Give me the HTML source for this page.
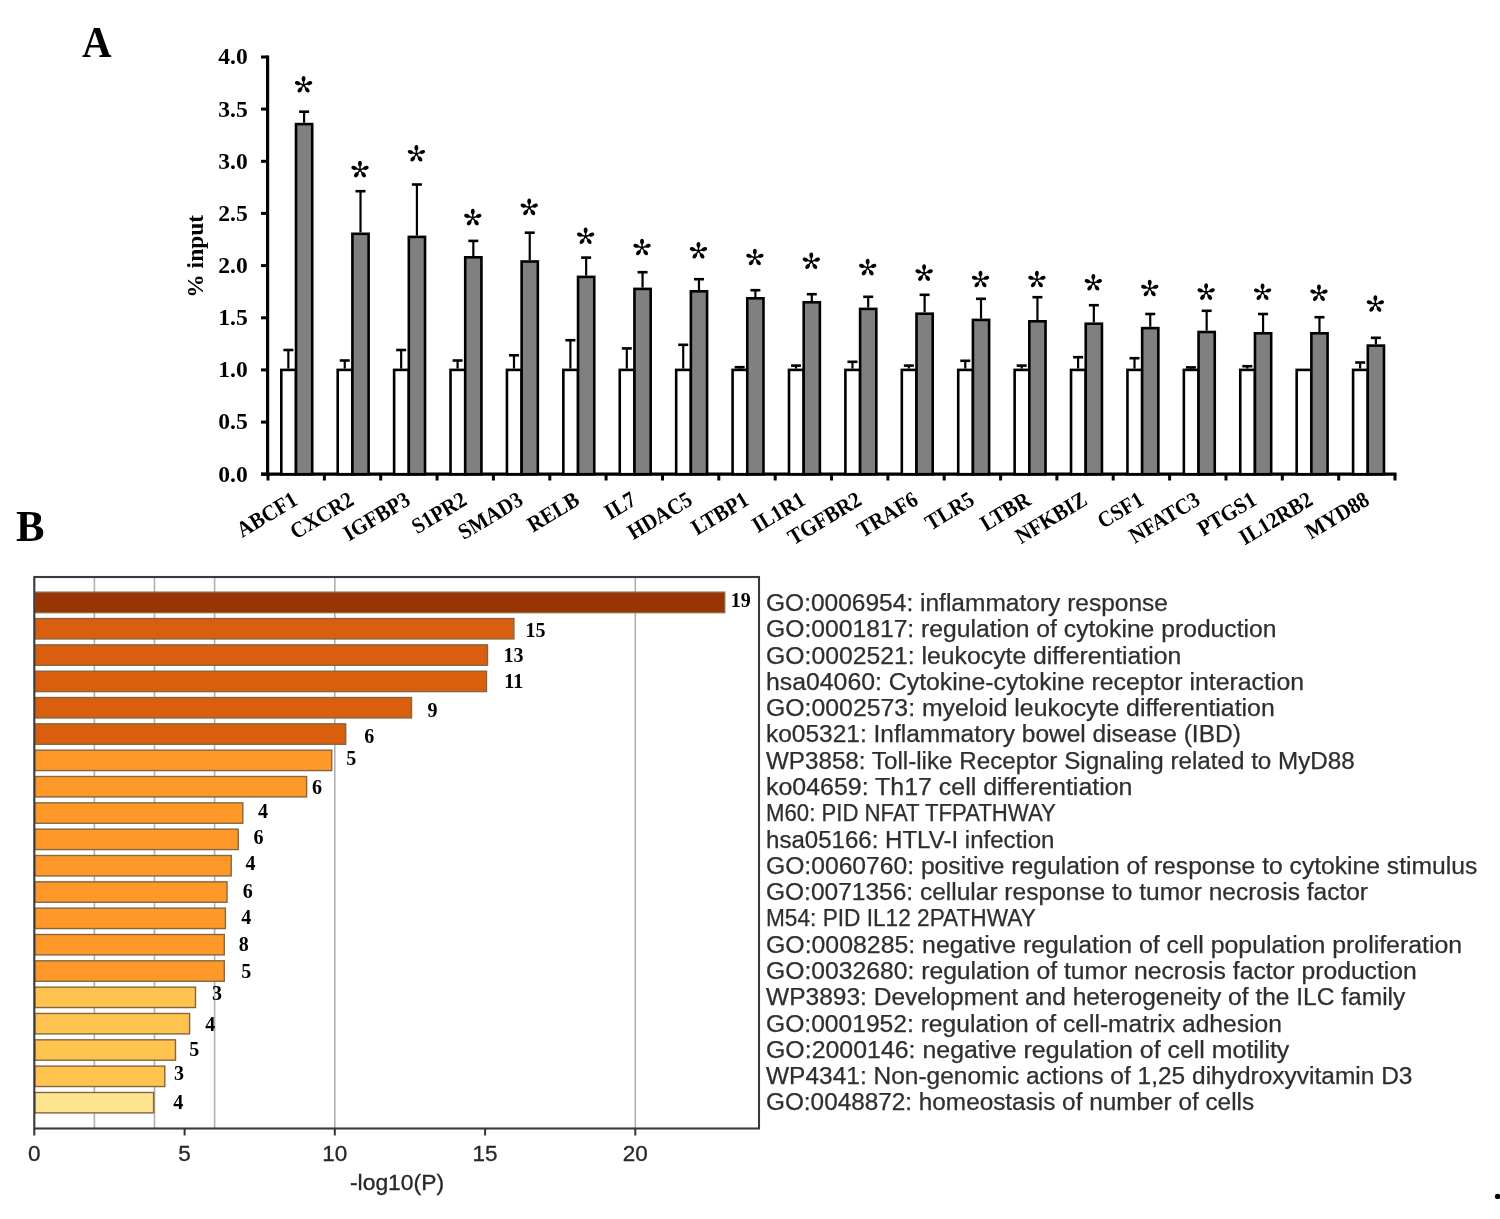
<!DOCTYPE html>
<html><head><meta charset="utf-8"><title>Figure</title>
<style>html,body{margin:0;padding:0;background:#fff}body{width:1500px;height:1219px;position:relative;overflow:hidden;font-family:"Liberation Sans",sans-serif}</style>
</head><body>
<svg width="1500" height="1219" viewBox="0 0 1500 1219" style="position:absolute;left:0;top:0;filter:blur(0.45px)">
<defs><g id="ast"><circle r="1.3"/><path id="lobe" d="M-0.7 0 L-0.75 -3.3 C-2.45 -4.5 -2.45 -9.0 0 -9.0 C2.45 -9.0 2.45 -4.5 0.75 -3.3 L0.7 0 Z"/><use href="#lobe" transform="rotate(72)"/><use href="#lobe" transform="rotate(144)"/><use href="#lobe" transform="rotate(216)"/><use href="#lobe" transform="rotate(288)"/></g></defs>
<text transform="translate(96.7,56.9) scale(0.91,1)" text-anchor="middle" font-family="Liberation Serif" font-weight="bold" font-size="45" fill="#000">A</text>
<text transform="translate(15.9,540.9) scale(0.97,1)" font-family="Liberation Serif" font-weight="bold" font-size="44" fill="#000">B</text>
<line x1="267.6" y1="55.5" x2="267.6" y2="475.5" stroke="#000" stroke-width="3.2"/>
<line x1="261" y1="474.2" x2="268" y2="474.2" stroke="#000" stroke-width="3"/>
<text x="247.8" y="481.6" text-anchor="end" font-family="Liberation Serif" font-weight="bold" font-size="23.6" fill="#000">0.0</text>
<line x1="261" y1="422.1" x2="268" y2="422.1" stroke="#000" stroke-width="3"/>
<text x="247.8" y="429.4" text-anchor="end" font-family="Liberation Serif" font-weight="bold" font-size="23.6" fill="#000">0.5</text>
<line x1="261" y1="369.9" x2="268" y2="369.9" stroke="#000" stroke-width="3"/>
<text x="247.8" y="377.3" text-anchor="end" font-family="Liberation Serif" font-weight="bold" font-size="23.6" fill="#000">1.0</text>
<line x1="261" y1="317.8" x2="268" y2="317.8" stroke="#000" stroke-width="3"/>
<text x="247.8" y="325.1" text-anchor="end" font-family="Liberation Serif" font-weight="bold" font-size="23.6" fill="#000">1.5</text>
<line x1="261" y1="265.6" x2="268" y2="265.6" stroke="#000" stroke-width="3"/>
<text x="247.8" y="273.0" text-anchor="end" font-family="Liberation Serif" font-weight="bold" font-size="23.6" fill="#000">2.0</text>
<line x1="261" y1="213.4" x2="268" y2="213.4" stroke="#000" stroke-width="3"/>
<text x="247.8" y="220.8" text-anchor="end" font-family="Liberation Serif" font-weight="bold" font-size="23.6" fill="#000">2.5</text>
<line x1="261" y1="161.3" x2="268" y2="161.3" stroke="#000" stroke-width="3"/>
<text x="247.8" y="168.7" text-anchor="end" font-family="Liberation Serif" font-weight="bold" font-size="23.6" fill="#000">3.0</text>
<line x1="261" y1="109.1" x2="268" y2="109.1" stroke="#000" stroke-width="3"/>
<text x="247.8" y="116.5" text-anchor="end" font-family="Liberation Serif" font-weight="bold" font-size="23.6" fill="#000">3.5</text>
<line x1="261" y1="57.0" x2="268" y2="57.0" stroke="#000" stroke-width="3"/>
<text x="247.8" y="64.4" text-anchor="end" font-family="Liberation Serif" font-weight="bold" font-size="23.6" fill="#000">4.0</text>
<line x1="261" y1="474.2" x2="1396.5" y2="474.2" stroke="#000" stroke-width="3.2"/>
<line x1="268.0" y1="474.2" x2="268.0" y2="480.5" stroke="#000" stroke-width="3"/>
<line x1="324.4" y1="474.2" x2="324.4" y2="480.5" stroke="#000" stroke-width="3"/>
<line x1="380.7" y1="474.2" x2="380.7" y2="480.5" stroke="#000" stroke-width="3"/>
<line x1="437.1" y1="474.2" x2="437.1" y2="480.5" stroke="#000" stroke-width="3"/>
<line x1="493.4" y1="474.2" x2="493.4" y2="480.5" stroke="#000" stroke-width="3"/>
<line x1="549.8" y1="474.2" x2="549.8" y2="480.5" stroke="#000" stroke-width="3"/>
<line x1="606.1" y1="474.2" x2="606.1" y2="480.5" stroke="#000" stroke-width="3"/>
<line x1="662.5" y1="474.2" x2="662.5" y2="480.5" stroke="#000" stroke-width="3"/>
<line x1="718.8" y1="474.2" x2="718.8" y2="480.5" stroke="#000" stroke-width="3"/>
<line x1="775.2" y1="474.2" x2="775.2" y2="480.5" stroke="#000" stroke-width="3"/>
<line x1="831.5" y1="474.2" x2="831.5" y2="480.5" stroke="#000" stroke-width="3"/>
<line x1="887.9" y1="474.2" x2="887.9" y2="480.5" stroke="#000" stroke-width="3"/>
<line x1="944.2" y1="474.2" x2="944.2" y2="480.5" stroke="#000" stroke-width="3"/>
<line x1="1000.6" y1="474.2" x2="1000.6" y2="480.5" stroke="#000" stroke-width="3"/>
<line x1="1056.9" y1="474.2" x2="1056.9" y2="480.5" stroke="#000" stroke-width="3"/>
<line x1="1113.2" y1="474.2" x2="1113.2" y2="480.5" stroke="#000" stroke-width="3"/>
<line x1="1169.6" y1="474.2" x2="1169.6" y2="480.5" stroke="#000" stroke-width="3"/>
<line x1="1226.0" y1="474.2" x2="1226.0" y2="480.5" stroke="#000" stroke-width="3"/>
<line x1="1282.3" y1="474.2" x2="1282.3" y2="480.5" stroke="#000" stroke-width="3"/>
<line x1="1338.7" y1="474.2" x2="1338.7" y2="480.5" stroke="#000" stroke-width="3"/>
<line x1="1395.0" y1="474.2" x2="1395.0" y2="480.5" stroke="#000" stroke-width="3"/>
<text transform="translate(202.5,256.3) rotate(-90)" text-anchor="middle" font-family="Liberation Serif" font-weight="bold" font-size="23.5" fill="#000">% input</text>
<rect x="281.30" y="369.90" width="14.70" height="104.30" fill="#fff" stroke="#000" stroke-width="2.6"/>
<line x1="288.35" y1="350.0" x2="288.35" y2="368.6" stroke="#000" stroke-width="2.2"/>
<line x1="283.35" y1="350.0" x2="293.35" y2="350.0" stroke="#000" stroke-width="2.6"/>
<rect x="296.00" y="124.10" width="16.20" height="350.10" fill="#808080" stroke="#000" stroke-width="2.6"/>
<line x1="304.10" y1="111.7" x2="304.10" y2="122.8" stroke="#000" stroke-width="2.2"/>
<line x1="299.10" y1="111.7" x2="309.10" y2="111.7" stroke="#000" stroke-width="2.6"/>
<use href="#ast" transform="translate(303.60,85.0)"/>
<text transform="translate(299.0,503.8) rotate(-31) scale(0.98,1.07)" text-anchor="end" font-family="Liberation Serif" font-weight="bold" font-size="21" fill="#000">ABCF1</text>
<rect x="337.71" y="369.90" width="14.70" height="104.30" fill="#fff" stroke="#000" stroke-width="2.6"/>
<line x1="344.76" y1="360.5" x2="344.76" y2="368.6" stroke="#000" stroke-width="2.2"/>
<line x1="339.76" y1="360.5" x2="349.76" y2="360.5" stroke="#000" stroke-width="2.6"/>
<rect x="352.41" y="233.80" width="16.20" height="240.40" fill="#808080" stroke="#000" stroke-width="2.6"/>
<line x1="360.51" y1="191.2" x2="360.51" y2="232.5" stroke="#000" stroke-width="2.2"/>
<line x1="355.51" y1="191.2" x2="365.51" y2="191.2" stroke="#000" stroke-width="2.6"/>
<use href="#ast" transform="translate(360.01,169.8)"/>
<text transform="translate(355.4,503.8) rotate(-31) scale(0.98,1.07)" text-anchor="end" font-family="Liberation Serif" font-weight="bold" font-size="21" fill="#000">CXCR2</text>
<rect x="394.12" y="369.90" width="14.70" height="104.30" fill="#fff" stroke="#000" stroke-width="2.6"/>
<line x1="401.17" y1="350.0" x2="401.17" y2="368.6" stroke="#000" stroke-width="2.2"/>
<line x1="396.17" y1="350.0" x2="406.17" y2="350.0" stroke="#000" stroke-width="2.6"/>
<rect x="408.82" y="236.90" width="16.20" height="237.30" fill="#808080" stroke="#000" stroke-width="2.6"/>
<line x1="416.92" y1="184.5" x2="416.92" y2="235.6" stroke="#000" stroke-width="2.2"/>
<line x1="411.92" y1="184.5" x2="421.92" y2="184.5" stroke="#000" stroke-width="2.6"/>
<use href="#ast" transform="translate(416.42,153.9)"/>
<text transform="translate(411.8,503.8) rotate(-31) scale(0.98,1.07)" text-anchor="end" font-family="Liberation Serif" font-weight="bold" font-size="21" fill="#000">IGFBP3</text>
<rect x="450.53" y="369.90" width="14.70" height="104.30" fill="#fff" stroke="#000" stroke-width="2.6"/>
<line x1="457.58" y1="360.5" x2="457.58" y2="368.6" stroke="#000" stroke-width="2.2"/>
<line x1="452.58" y1="360.5" x2="462.58" y2="360.5" stroke="#000" stroke-width="2.6"/>
<rect x="465.23" y="257.30" width="16.20" height="216.90" fill="#808080" stroke="#000" stroke-width="2.6"/>
<line x1="473.33" y1="240.9" x2="473.33" y2="256.0" stroke="#000" stroke-width="2.2"/>
<line x1="468.33" y1="240.9" x2="478.33" y2="240.9" stroke="#000" stroke-width="2.6"/>
<use href="#ast" transform="translate(472.83,217.8)"/>
<text transform="translate(468.2,503.8) rotate(-31) scale(0.98,1.07)" text-anchor="end" font-family="Liberation Serif" font-weight="bold" font-size="21" fill="#000">S1PR2</text>
<rect x="506.94" y="369.90" width="14.70" height="104.30" fill="#fff" stroke="#000" stroke-width="2.6"/>
<line x1="513.99" y1="355.3" x2="513.99" y2="368.6" stroke="#000" stroke-width="2.2"/>
<line x1="508.99" y1="355.3" x2="518.99" y2="355.3" stroke="#000" stroke-width="2.6"/>
<rect x="521.64" y="261.50" width="16.20" height="212.70" fill="#808080" stroke="#000" stroke-width="2.6"/>
<line x1="529.74" y1="232.7" x2="529.74" y2="260.2" stroke="#000" stroke-width="2.2"/>
<line x1="524.74" y1="232.7" x2="534.74" y2="232.7" stroke="#000" stroke-width="2.6"/>
<use href="#ast" transform="translate(529.24,207.6)"/>
<text transform="translate(524.6,503.8) rotate(-31) scale(0.98,1.07)" text-anchor="end" font-family="Liberation Serif" font-weight="bold" font-size="21" fill="#000">SMAD3</text>
<rect x="563.35" y="369.90" width="14.70" height="104.30" fill="#fff" stroke="#000" stroke-width="2.6"/>
<line x1="570.40" y1="340.2" x2="570.40" y2="368.6" stroke="#000" stroke-width="2.2"/>
<line x1="565.40" y1="340.2" x2="575.40" y2="340.2" stroke="#000" stroke-width="2.6"/>
<rect x="578.05" y="276.90" width="16.20" height="197.30" fill="#808080" stroke="#000" stroke-width="2.6"/>
<line x1="586.15" y1="257.6" x2="586.15" y2="275.6" stroke="#000" stroke-width="2.2"/>
<line x1="581.15" y1="257.6" x2="591.15" y2="257.6" stroke="#000" stroke-width="2.6"/>
<use href="#ast" transform="translate(585.65,236.5)"/>
<text transform="translate(581.0,503.8) rotate(-31) scale(0.98,1.07)" text-anchor="end" font-family="Liberation Serif" font-weight="bold" font-size="21" fill="#000">RELB</text>
<rect x="619.76" y="369.90" width="14.70" height="104.30" fill="#fff" stroke="#000" stroke-width="2.6"/>
<line x1="626.81" y1="348.4" x2="626.81" y2="368.6" stroke="#000" stroke-width="2.2"/>
<line x1="621.81" y1="348.4" x2="631.81" y2="348.4" stroke="#000" stroke-width="2.6"/>
<rect x="634.46" y="288.90" width="16.20" height="185.30" fill="#808080" stroke="#000" stroke-width="2.6"/>
<line x1="642.56" y1="272.2" x2="642.56" y2="287.6" stroke="#000" stroke-width="2.2"/>
<line x1="637.56" y1="272.2" x2="647.56" y2="272.2" stroke="#000" stroke-width="2.6"/>
<use href="#ast" transform="translate(642.06,247.7)"/>
<text transform="translate(637.5,503.8) rotate(-31) scale(0.98,1.07)" text-anchor="end" font-family="Liberation Serif" font-weight="bold" font-size="21" fill="#000">IL7</text>
<rect x="676.17" y="369.90" width="14.70" height="104.30" fill="#fff" stroke="#000" stroke-width="2.6"/>
<line x1="683.22" y1="344.8" x2="683.22" y2="368.6" stroke="#000" stroke-width="2.2"/>
<line x1="678.22" y1="344.8" x2="688.22" y2="344.8" stroke="#000" stroke-width="2.6"/>
<rect x="690.87" y="291.30" width="16.20" height="182.90" fill="#808080" stroke="#000" stroke-width="2.6"/>
<line x1="698.97" y1="279.2" x2="698.97" y2="290.0" stroke="#000" stroke-width="2.2"/>
<line x1="693.97" y1="279.2" x2="703.97" y2="279.2" stroke="#000" stroke-width="2.6"/>
<use href="#ast" transform="translate(698.47,251.0)"/>
<text transform="translate(693.9,503.8) rotate(-31) scale(0.98,1.07)" text-anchor="end" font-family="Liberation Serif" font-weight="bold" font-size="21" fill="#000">HDAC5</text>
<rect x="732.58" y="369.90" width="14.70" height="104.30" fill="#fff" stroke="#000" stroke-width="2.6"/>
<line x1="739.63" y1="367.2" x2="739.63" y2="368.6" stroke="#000" stroke-width="2.2"/>
<line x1="734.63" y1="367.2" x2="744.63" y2="367.2" stroke="#000" stroke-width="2.6"/>
<rect x="747.28" y="298.30" width="16.20" height="175.90" fill="#808080" stroke="#000" stroke-width="2.6"/>
<line x1="755.38" y1="290.2" x2="755.38" y2="297.0" stroke="#000" stroke-width="2.2"/>
<line x1="750.38" y1="290.2" x2="760.38" y2="290.2" stroke="#000" stroke-width="2.6"/>
<use href="#ast" transform="translate(754.88,257.7)"/>
<text transform="translate(750.3,503.8) rotate(-31) scale(0.98,1.07)" text-anchor="end" font-family="Liberation Serif" font-weight="bold" font-size="21" fill="#000">LTBP1</text>
<rect x="788.99" y="369.90" width="14.70" height="104.30" fill="#fff" stroke="#000" stroke-width="2.6"/>
<line x1="796.04" y1="365.6" x2="796.04" y2="368.6" stroke="#000" stroke-width="2.2"/>
<line x1="791.04" y1="365.6" x2="801.04" y2="365.6" stroke="#000" stroke-width="2.6"/>
<rect x="803.69" y="302.30" width="16.20" height="171.90" fill="#808080" stroke="#000" stroke-width="2.6"/>
<line x1="811.79" y1="294.2" x2="811.79" y2="301.0" stroke="#000" stroke-width="2.2"/>
<line x1="806.79" y1="294.2" x2="816.79" y2="294.2" stroke="#000" stroke-width="2.6"/>
<use href="#ast" transform="translate(811.29,261.5)"/>
<text transform="translate(806.7,503.8) rotate(-31) scale(0.98,1.07)" text-anchor="end" font-family="Liberation Serif" font-weight="bold" font-size="21" fill="#000">IL1R1</text>
<rect x="845.40" y="369.90" width="14.70" height="104.30" fill="#fff" stroke="#000" stroke-width="2.6"/>
<line x1="852.45" y1="361.8" x2="852.45" y2="368.6" stroke="#000" stroke-width="2.2"/>
<line x1="847.45" y1="361.8" x2="857.45" y2="361.8" stroke="#000" stroke-width="2.6"/>
<rect x="860.10" y="308.90" width="16.20" height="165.30" fill="#808080" stroke="#000" stroke-width="2.6"/>
<line x1="868.20" y1="296.8" x2="868.20" y2="307.6" stroke="#000" stroke-width="2.2"/>
<line x1="863.20" y1="296.8" x2="873.20" y2="296.8" stroke="#000" stroke-width="2.6"/>
<use href="#ast" transform="translate(867.70,267.8)"/>
<text transform="translate(863.1,503.8) rotate(-31) scale(0.98,1.07)" text-anchor="end" font-family="Liberation Serif" font-weight="bold" font-size="21" fill="#000">TGFBR2</text>
<rect x="901.81" y="369.90" width="14.70" height="104.30" fill="#fff" stroke="#000" stroke-width="2.6"/>
<line x1="908.86" y1="365.6" x2="908.86" y2="368.6" stroke="#000" stroke-width="2.2"/>
<line x1="903.86" y1="365.6" x2="913.86" y2="365.6" stroke="#000" stroke-width="2.6"/>
<rect x="916.51" y="313.70" width="16.20" height="160.50" fill="#808080" stroke="#000" stroke-width="2.6"/>
<line x1="924.61" y1="294.8" x2="924.61" y2="312.4" stroke="#000" stroke-width="2.2"/>
<line x1="919.61" y1="294.8" x2="929.61" y2="294.8" stroke="#000" stroke-width="2.6"/>
<use href="#ast" transform="translate(924.11,273.3)"/>
<text transform="translate(919.5,503.8) rotate(-31) scale(0.98,1.07)" text-anchor="end" font-family="Liberation Serif" font-weight="bold" font-size="21" fill="#000">TRAF6</text>
<rect x="958.22" y="369.90" width="14.70" height="104.30" fill="#fff" stroke="#000" stroke-width="2.6"/>
<line x1="965.27" y1="360.8" x2="965.27" y2="368.6" stroke="#000" stroke-width="2.2"/>
<line x1="960.27" y1="360.8" x2="970.27" y2="360.8" stroke="#000" stroke-width="2.6"/>
<rect x="972.92" y="319.90" width="16.20" height="154.30" fill="#808080" stroke="#000" stroke-width="2.6"/>
<line x1="981.02" y1="298.8" x2="981.02" y2="318.6" stroke="#000" stroke-width="2.2"/>
<line x1="976.02" y1="298.8" x2="986.02" y2="298.8" stroke="#000" stroke-width="2.6"/>
<use href="#ast" transform="translate(980.52,279.7)"/>
<text transform="translate(975.9,503.8) rotate(-31) scale(0.98,1.07)" text-anchor="end" font-family="Liberation Serif" font-weight="bold" font-size="21" fill="#000">TLR5</text>
<rect x="1014.63" y="369.90" width="14.70" height="104.30" fill="#fff" stroke="#000" stroke-width="2.6"/>
<line x1="1021.68" y1="365.6" x2="1021.68" y2="368.6" stroke="#000" stroke-width="2.2"/>
<line x1="1016.68" y1="365.6" x2="1026.68" y2="365.6" stroke="#000" stroke-width="2.6"/>
<rect x="1029.33" y="321.30" width="16.20" height="152.90" fill="#808080" stroke="#000" stroke-width="2.6"/>
<line x1="1037.43" y1="297.2" x2="1037.43" y2="320.0" stroke="#000" stroke-width="2.2"/>
<line x1="1032.43" y1="297.2" x2="1042.43" y2="297.2" stroke="#000" stroke-width="2.6"/>
<use href="#ast" transform="translate(1036.93,279.7)"/>
<text transform="translate(1032.3,503.8) rotate(-31) scale(0.98,1.07)" text-anchor="end" font-family="Liberation Serif" font-weight="bold" font-size="21" fill="#000">LTBR</text>
<rect x="1071.04" y="369.90" width="14.70" height="104.30" fill="#fff" stroke="#000" stroke-width="2.6"/>
<line x1="1078.09" y1="357.2" x2="1078.09" y2="368.6" stroke="#000" stroke-width="2.2"/>
<line x1="1073.09" y1="357.2" x2="1083.09" y2="357.2" stroke="#000" stroke-width="2.6"/>
<rect x="1085.74" y="323.70" width="16.20" height="150.50" fill="#808080" stroke="#000" stroke-width="2.6"/>
<line x1="1093.84" y1="305.2" x2="1093.84" y2="322.4" stroke="#000" stroke-width="2.2"/>
<line x1="1088.84" y1="305.2" x2="1098.84" y2="305.2" stroke="#000" stroke-width="2.6"/>
<use href="#ast" transform="translate(1093.34,283.0)"/>
<text transform="translate(1088.7,503.8) rotate(-31) scale(0.98,1.07)" text-anchor="end" font-family="Liberation Serif" font-weight="bold" font-size="21" fill="#000">NFKBIZ</text>
<rect x="1127.45" y="369.90" width="14.70" height="104.30" fill="#fff" stroke="#000" stroke-width="2.6"/>
<line x1="1134.50" y1="358.2" x2="1134.50" y2="368.6" stroke="#000" stroke-width="2.2"/>
<line x1="1129.50" y1="358.2" x2="1139.50" y2="358.2" stroke="#000" stroke-width="2.6"/>
<rect x="1142.15" y="328.10" width="16.20" height="146.10" fill="#808080" stroke="#000" stroke-width="2.6"/>
<line x1="1150.25" y1="314.0" x2="1150.25" y2="326.8" stroke="#000" stroke-width="2.2"/>
<line x1="1145.25" y1="314.0" x2="1155.25" y2="314.0" stroke="#000" stroke-width="2.6"/>
<use href="#ast" transform="translate(1149.75,288.7)"/>
<text transform="translate(1145.2,503.8) rotate(-31) scale(0.98,1.07)" text-anchor="end" font-family="Liberation Serif" font-weight="bold" font-size="21" fill="#000">CSF1</text>
<rect x="1183.86" y="369.90" width="14.70" height="104.30" fill="#fff" stroke="#000" stroke-width="2.6"/>
<line x1="1190.91" y1="367.4" x2="1190.91" y2="368.6" stroke="#000" stroke-width="2.2"/>
<line x1="1185.91" y1="367.4" x2="1195.91" y2="367.4" stroke="#000" stroke-width="2.6"/>
<rect x="1198.56" y="332.00" width="16.20" height="142.20" fill="#808080" stroke="#000" stroke-width="2.6"/>
<line x1="1206.66" y1="310.8" x2="1206.66" y2="330.7" stroke="#000" stroke-width="2.2"/>
<line x1="1201.66" y1="310.8" x2="1211.66" y2="310.8" stroke="#000" stroke-width="2.6"/>
<use href="#ast" transform="translate(1206.16,292.3)"/>
<text transform="translate(1201.6,503.8) rotate(-31) scale(0.98,1.07)" text-anchor="end" font-family="Liberation Serif" font-weight="bold" font-size="21" fill="#000">NFATC3</text>
<rect x="1240.27" y="369.90" width="14.70" height="104.30" fill="#fff" stroke="#000" stroke-width="2.6"/>
<line x1="1247.32" y1="366.2" x2="1247.32" y2="368.6" stroke="#000" stroke-width="2.2"/>
<line x1="1242.32" y1="366.2" x2="1252.32" y2="366.2" stroke="#000" stroke-width="2.6"/>
<rect x="1254.97" y="333.30" width="16.20" height="140.90" fill="#808080" stroke="#000" stroke-width="2.6"/>
<line x1="1263.07" y1="314.0" x2="1263.07" y2="332.0" stroke="#000" stroke-width="2.2"/>
<line x1="1258.07" y1="314.0" x2="1268.07" y2="314.0" stroke="#000" stroke-width="2.6"/>
<use href="#ast" transform="translate(1262.57,292.4)"/>
<text transform="translate(1258.0,503.8) rotate(-31) scale(0.98,1.07)" text-anchor="end" font-family="Liberation Serif" font-weight="bold" font-size="21" fill="#000">PTGS1</text>
<rect x="1296.68" y="369.90" width="14.70" height="104.30" fill="#fff" stroke="#000" stroke-width="2.6"/>
<rect x="1311.38" y="333.30" width="16.20" height="140.90" fill="#808080" stroke="#000" stroke-width="2.6"/>
<line x1="1319.48" y1="317.2" x2="1319.48" y2="332.0" stroke="#000" stroke-width="2.2"/>
<line x1="1314.48" y1="317.2" x2="1324.48" y2="317.2" stroke="#000" stroke-width="2.6"/>
<use href="#ast" transform="translate(1318.98,293.5)"/>
<text transform="translate(1314.4,503.8) rotate(-31) scale(0.98,1.07)" text-anchor="end" font-family="Liberation Serif" font-weight="bold" font-size="21" fill="#000">IL12RB2</text>
<rect x="1353.09" y="369.90" width="14.70" height="104.30" fill="#fff" stroke="#000" stroke-width="2.6"/>
<line x1="1360.14" y1="362.5" x2="1360.14" y2="368.6" stroke="#000" stroke-width="2.2"/>
<line x1="1355.14" y1="362.5" x2="1365.14" y2="362.5" stroke="#000" stroke-width="2.6"/>
<rect x="1367.79" y="345.60" width="16.20" height="128.60" fill="#808080" stroke="#000" stroke-width="2.6"/>
<line x1="1375.89" y1="337.8" x2="1375.89" y2="344.3" stroke="#000" stroke-width="2.2"/>
<line x1="1370.89" y1="337.8" x2="1380.89" y2="337.8" stroke="#000" stroke-width="2.6"/>
<use href="#ast" transform="translate(1375.39,304.2)"/>
<text transform="translate(1370.8,503.8) rotate(-31) scale(0.98,1.07)" text-anchor="end" font-family="Liberation Serif" font-weight="bold" font-size="21" fill="#000">MYD88</text>
<line x1="94.4" y1="577.0" x2="94.4" y2="1128.5" stroke="#b0b0b0" stroke-width="1.6"/>
<line x1="154.5" y1="577.0" x2="154.5" y2="1128.5" stroke="#b0b0b0" stroke-width="1.6"/>
<line x1="214.6" y1="577.0" x2="214.6" y2="1128.5" stroke="#b0b0b0" stroke-width="1.6"/>
<line x1="334.8" y1="577.0" x2="334.8" y2="1128.5" stroke="#b0b0b0" stroke-width="1.6"/>
<line x1="635.3" y1="577.0" x2="635.3" y2="1128.5" stroke="#b0b0b0" stroke-width="1.6"/>
<rect x="34.8" y="592.20" width="689.9" height="20.4" fill="#993404" stroke="#84673f" stroke-width="1.4"/>
<rect x="34.8" y="618.53" width="479.1" height="20.4" fill="#d95f0e" stroke="#84673f" stroke-width="1.4"/>
<rect x="34.8" y="644.86" width="452.7" height="20.4" fill="#d95f0e" stroke="#84673f" stroke-width="1.4"/>
<rect x="34.8" y="671.19" width="451.7" height="20.4" fill="#d95f0e" stroke="#84673f" stroke-width="1.4"/>
<rect x="34.8" y="697.52" width="376.7" height="20.4" fill="#d95f0e" stroke="#84673f" stroke-width="1.4"/>
<rect x="34.8" y="723.85" width="310.9" height="20.4" fill="#d95f0e" stroke="#84673f" stroke-width="1.4"/>
<rect x="34.8" y="750.18" width="296.9" height="20.4" fill="#fe9929" stroke="#84673f" stroke-width="1.4"/>
<rect x="34.8" y="776.51" width="271.8" height="20.4" fill="#fe9929" stroke="#84673f" stroke-width="1.4"/>
<rect x="34.8" y="802.84" width="208.0" height="20.4" fill="#fe9929" stroke="#84673f" stroke-width="1.4"/>
<rect x="34.8" y="829.17" width="203.4" height="20.4" fill="#fe9929" stroke="#84673f" stroke-width="1.4"/>
<rect x="34.8" y="855.50" width="196.4" height="20.4" fill="#fe9929" stroke="#84673f" stroke-width="1.4"/>
<rect x="34.8" y="881.83" width="192.2" height="20.4" fill="#fe9929" stroke="#84673f" stroke-width="1.4"/>
<rect x="34.8" y="908.16" width="190.6" height="20.4" fill="#fe9929" stroke="#84673f" stroke-width="1.4"/>
<rect x="34.8" y="934.49" width="189.5" height="20.4" fill="#fe9929" stroke="#84673f" stroke-width="1.4"/>
<rect x="34.8" y="960.82" width="189.5" height="20.4" fill="#fe9929" stroke="#84673f" stroke-width="1.4"/>
<rect x="34.8" y="987.15" width="160.7" height="20.4" fill="#fec44f" stroke="#84673f" stroke-width="1.4"/>
<rect x="34.8" y="1013.48" width="154.8" height="20.4" fill="#fec44f" stroke="#84673f" stroke-width="1.4"/>
<rect x="34.8" y="1039.81" width="140.7" height="20.4" fill="#fec44f" stroke="#84673f" stroke-width="1.4"/>
<rect x="34.8" y="1066.14" width="130.0" height="20.4" fill="#fec44f" stroke="#84673f" stroke-width="1.4"/>
<rect x="34.8" y="1092.47" width="118.8" height="20.4" fill="#fee391" stroke="#84673f" stroke-width="1.4"/>
<rect x="34.3" y="577.0" width="724.7" height="551.5" fill="none" stroke="#3a3a3a" stroke-width="2.1"/>
<line x1="34.3" y1="1128.5" x2="34.3" y2="1135.5" stroke="#333" stroke-width="2"/>
<text x="34.3" y="1160.5" text-anchor="middle" font-family="Liberation Sans" font-size="22.5" fill="#262626" stroke="#262626" stroke-width="0.3">0</text>
<line x1="184.6" y1="1128.5" x2="184.6" y2="1135.5" stroke="#333" stroke-width="2"/>
<text x="184.6" y="1160.5" text-anchor="middle" font-family="Liberation Sans" font-size="22.5" fill="#262626" stroke="#262626" stroke-width="0.3">5</text>
<line x1="334.8" y1="1128.5" x2="334.8" y2="1135.5" stroke="#333" stroke-width="2"/>
<text x="334.8" y="1160.5" text-anchor="middle" font-family="Liberation Sans" font-size="22.5" fill="#262626" stroke="#262626" stroke-width="0.3">10</text>
<line x1="485.1" y1="1128.5" x2="485.1" y2="1135.5" stroke="#333" stroke-width="2"/>
<text x="485.1" y="1160.5" text-anchor="middle" font-family="Liberation Sans" font-size="22.5" fill="#262626" stroke="#262626" stroke-width="0.3">15</text>
<line x1="635.3" y1="1128.5" x2="635.3" y2="1135.5" stroke="#333" stroke-width="2"/>
<text x="635.3" y="1160.5" text-anchor="middle" font-family="Liberation Sans" font-size="22.5" fill="#262626" stroke="#262626" stroke-width="0.3">20</text>
<text x="350" y="1189.5" font-family="Liberation Sans" font-size="21.5" fill="#262626" stroke="#262626" stroke-width="0.3" textLength="94" lengthAdjust="spacingAndGlyphs">-log10(P)</text>
<text x="730.8" y="607.0" font-family="Liberation Serif" font-weight="bold" font-size="20" fill="#000">19</text>
<text x="525.6" y="636.5" font-family="Liberation Serif" font-weight="bold" font-size="20" fill="#000">15</text>
<text x="503.5" y="662.4" font-family="Liberation Serif" font-weight="bold" font-size="20" fill="#000">13</text>
<text x="504.3" y="687.5" font-family="Liberation Serif" font-weight="bold" font-size="20" fill="#000">11</text>
<text x="427.4" y="716.5" font-family="Liberation Serif" font-weight="bold" font-size="20" fill="#000">9</text>
<text x="364.3" y="742.5" font-family="Liberation Serif" font-weight="bold" font-size="20" fill="#000">6</text>
<text x="346.2" y="764.9" font-family="Liberation Serif" font-weight="bold" font-size="20" fill="#000">5</text>
<text x="312.1" y="793.9" font-family="Liberation Serif" font-weight="bold" font-size="20" fill="#000">6</text>
<text x="258.0" y="818.2" font-family="Liberation Serif" font-weight="bold" font-size="20" fill="#000">4</text>
<text x="253.4" y="844.2" font-family="Liberation Serif" font-weight="bold" font-size="20" fill="#000">6</text>
<text x="245.5" y="870.0" font-family="Liberation Serif" font-weight="bold" font-size="20" fill="#000">4</text>
<text x="242.7" y="898.2" font-family="Liberation Serif" font-weight="bold" font-size="20" fill="#000">6</text>
<text x="241.3" y="924.3" font-family="Liberation Serif" font-weight="bold" font-size="20" fill="#000">4</text>
<text x="238.7" y="951.0" font-family="Liberation Serif" font-weight="bold" font-size="20" fill="#000">8</text>
<text x="241.3" y="978.2" font-family="Liberation Serif" font-weight="bold" font-size="20" fill="#000">5</text>
<text x="212.0" y="1000.3" font-family="Liberation Serif" font-weight="bold" font-size="20" fill="#000">3</text>
<text x="205.3" y="1031.0" font-family="Liberation Serif" font-weight="bold" font-size="20" fill="#000">4</text>
<text x="189.3" y="1055.5" font-family="Liberation Serif" font-weight="bold" font-size="20" fill="#000">5</text>
<text x="174.1" y="1079.5" font-family="Liberation Serif" font-weight="bold" font-size="20" fill="#000">3</text>
<text x="173.3" y="1108.9" font-family="Liberation Serif" font-weight="bold" font-size="20" fill="#000">4</text>
<text x="766.0" y="610.9" font-family="Liberation Sans" font-size="23" fill="#2e2e2e" stroke="#2e2e2e" stroke-width="0.25" textLength="402.0" lengthAdjust="spacingAndGlyphs">GO:0006954: inflammatory response</text>
<text x="766.0" y="637.2" font-family="Liberation Sans" font-size="23" fill="#2e2e2e" stroke="#2e2e2e" stroke-width="0.25" textLength="510.5" lengthAdjust="spacingAndGlyphs">GO:0001817: regulation of cytokine production</text>
<text x="766.0" y="663.5" font-family="Liberation Sans" font-size="23" fill="#2e2e2e" stroke="#2e2e2e" stroke-width="0.25" textLength="415.3" lengthAdjust="spacingAndGlyphs">GO:0002521: leukocyte differentiation</text>
<text x="766.0" y="689.8" font-family="Liberation Sans" font-size="23" fill="#2e2e2e" stroke="#2e2e2e" stroke-width="0.25" textLength="538.0" lengthAdjust="spacingAndGlyphs">hsa04060: Cytokine-cytokine receptor interaction</text>
<text x="766.0" y="716.1" font-family="Liberation Sans" font-size="23" fill="#2e2e2e" stroke="#2e2e2e" stroke-width="0.25" textLength="508.7" lengthAdjust="spacingAndGlyphs">GO:0002573: myeloid leukocyte differentiation</text>
<text x="766.0" y="742.3" font-family="Liberation Sans" font-size="23" fill="#2e2e2e" stroke="#2e2e2e" stroke-width="0.25" textLength="474.8" lengthAdjust="spacingAndGlyphs">ko05321: Inflammatory bowel disease (IBD)</text>
<text x="766.0" y="768.6" font-family="Liberation Sans" font-size="23" fill="#2e2e2e" stroke="#2e2e2e" stroke-width="0.25" textLength="588.7" lengthAdjust="spacingAndGlyphs">WP3858: Toll-like Receptor Signaling related to MyD88</text>
<text x="766.0" y="794.9" font-family="Liberation Sans" font-size="23" fill="#2e2e2e" stroke="#2e2e2e" stroke-width="0.25" textLength="366.5" lengthAdjust="spacingAndGlyphs">ko04659: Th17 cell differentiation</text>
<text x="766.0" y="821.2" font-family="Liberation Sans" font-size="23" fill="#2e2e2e" stroke="#2e2e2e" stroke-width="0.25" textLength="289.9" lengthAdjust="spacingAndGlyphs">M60: PID NFAT TFPATHWAY</text>
<text x="766.0" y="847.5" font-family="Liberation Sans" font-size="23" fill="#2e2e2e" stroke="#2e2e2e" stroke-width="0.25" textLength="288.4" lengthAdjust="spacingAndGlyphs">hsa05166: HTLV-I infection</text>
<text x="766.0" y="873.8" font-family="Liberation Sans" font-size="23" fill="#2e2e2e" stroke="#2e2e2e" stroke-width="0.25" textLength="711.3" lengthAdjust="spacingAndGlyphs">GO:0060760: positive regulation of response to cytokine stimulus</text>
<text x="766.0" y="900.1" font-family="Liberation Sans" font-size="23" fill="#2e2e2e" stroke="#2e2e2e" stroke-width="0.25" textLength="602.0" lengthAdjust="spacingAndGlyphs">GO:0071356: cellular response to tumor necrosis factor</text>
<text x="766.0" y="926.4" font-family="Liberation Sans" font-size="23" fill="#2e2e2e" stroke="#2e2e2e" stroke-width="0.25" textLength="269.8" lengthAdjust="spacingAndGlyphs">M54: PID IL12 2PATHWAY</text>
<text x="766.0" y="952.7" font-family="Liberation Sans" font-size="23" fill="#2e2e2e" stroke="#2e2e2e" stroke-width="0.25" textLength="696.1" lengthAdjust="spacingAndGlyphs">GO:0008285: negative regulation of cell population proliferation</text>
<text x="766.0" y="979.0" font-family="Liberation Sans" font-size="23" fill="#2e2e2e" stroke="#2e2e2e" stroke-width="0.25" textLength="650.8" lengthAdjust="spacingAndGlyphs">GO:0032680: regulation of tumor necrosis factor production</text>
<text x="766.0" y="1005.2" font-family="Liberation Sans" font-size="23" fill="#2e2e2e" stroke="#2e2e2e" stroke-width="0.25" textLength="639.3" lengthAdjust="spacingAndGlyphs">WP3893: Development and heterogeneity of the ILC family</text>
<text x="766.0" y="1031.5" font-family="Liberation Sans" font-size="23" fill="#2e2e2e" stroke="#2e2e2e" stroke-width="0.25" textLength="515.9" lengthAdjust="spacingAndGlyphs">GO:0001952: regulation of cell-matrix adhesion</text>
<text x="766.0" y="1057.8" font-family="Liberation Sans" font-size="23" fill="#2e2e2e" stroke="#2e2e2e" stroke-width="0.25" textLength="523.3" lengthAdjust="spacingAndGlyphs">GO:2000146: negative regulation of cell motility</text>
<text x="766.0" y="1084.1" font-family="Liberation Sans" font-size="23" fill="#2e2e2e" stroke="#2e2e2e" stroke-width="0.25" textLength="646.5" lengthAdjust="spacingAndGlyphs">WP4341: Non-genomic actions of 1,25 dihydroxyvitamin D3</text>
<text x="766.0" y="1110.4" font-family="Liberation Sans" font-size="23" fill="#2e2e2e" stroke="#2e2e2e" stroke-width="0.25" textLength="488.1" lengthAdjust="spacingAndGlyphs">GO:0048872: homeostasis of number of cells</text>
<circle cx="1497.6" cy="1196.4" r="2.7" fill="#000"/>
</svg>
</body></html>
